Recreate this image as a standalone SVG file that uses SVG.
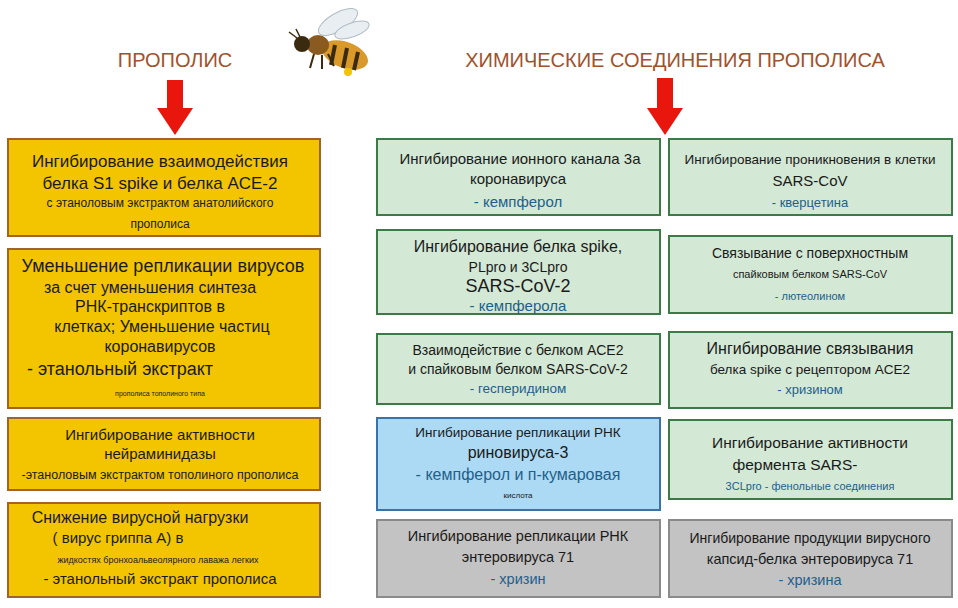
<svg xmlns="http://www.w3.org/2000/svg" width="958" height="608" viewBox="0 0 958 608">
<style>
text{font-family:"Liberation Sans",Arial,sans-serif;text-anchor:middle;fill:#1a1a1a}
.y{fill:#f2c500;stroke:#a0632a;stroke-width:2}
.g{fill:#d3e8d5;stroke:#3e7a48;stroke-width:2}
.b{fill:#acd9f3;stroke:#3b73a8;stroke-width:2}
.s{fill:#c3c3c3;stroke:#8a8a8a;stroke-width:2}
.t{fill:#a0522d;font-size:20px}
.bl{fill:#1f5f8b}
</style>
<rect width="958" height="608" fill="#fff"/>
<g id="titles">
<text class="t" x="175" y="67">ПРОПОЛИС</text>
<text class="t" x="675" y="67">ХИМИЧЕСКИЕ СОЕДИНЕНИЯ ПРОПОЛИСА</text>
</g>
<g id="bee">
<ellipse cx="338" cy="22" rx="22" ry="9" fill="#e8eef2" stroke="#b0bcc4" transform="rotate(-30 338 22)"/>
<ellipse cx="352" cy="30" rx="18" ry="7" fill="#e8eef2" stroke="#b0bcc4" transform="rotate(-20 352 30)"/>
<ellipse cx="345" cy="55" rx="24" ry="13" fill="#d99a2b" transform="rotate(20 345 55)"/>
<path d="M335 45 l-4 20 M347 48 l-4 20 M358 52 l-4 18" stroke="#3a2a10" stroke-width="4"/>
<ellipse cx="318" cy="45" rx="11" ry="10" fill="#8a5a20"/>
<circle cx="302" cy="44" r="8" fill="#3a2a10"/>
<path d="M297 38 l-8 -6 M300 37 l-4 -8" stroke="#3a2a10" stroke-width="1.5" fill="none"/>
<path d="M314 54 l-4 14 M322 55 l0 14 M328 54 l6 12" stroke="#3a2a10" stroke-width="2"/>
<circle cx="348" cy="72" r="4" fill="#f2c500"/>
</g>
<g id="arrows" fill="#e8160c">
<polygon points="167,80 183,80 183,108 193,108 175,135 157,108 167,108"/>
<polygon points="657,78 673,78 673,108 683,108 665,135 647,108 657,108"/>
</g>
<g id="connectors"></g>
<g id="L1"><rect class="y" x="8" y="139" width="312" height="97"/>
<text x="160" y="167" font-size="17">Ингибирование взаимодействия</text>
<text x="160" y="189" font-size="17">белка S1 spike и белка ACE-2</text>
<text x="160" y="207" font-size="12">с этаноловым экстрактом анатолийского</text>
<text x="160" y="228" font-size="12">прополиса</text></g>
<g id="L2"><rect class="y" x="8" y="249" width="312" height="159"/>
<text x="163" y="272" font-size="18">Уменьшение репликации вирусов</text>
<text x="150" y="293" font-size="16">за счет уменьшения синтеза</text>
<text x="150" y="312" font-size="16">РНК-транскриптов в</text>
<text x="162" y="332" font-size="16">клетках; Уменьшение частиц</text>
<text x="160" y="352" font-size="16">коронавирусов</text>
<text x="120" y="375" font-size="18">- этанольный экстракт</text>
<text x="160" y="396" font-size="7">прополиса тополиного типа</text></g>
<g id="L3"><rect class="y" x="8" y="418" width="312" height="72"/>
<text x="160" y="440" font-size="15">Ингибирование активности</text>
<text x="160" y="459" font-size="15">нейраминидазы</text>
<text x="160" y="479" font-size="12.5">-этаноловым экстрактом тополиного прополиса</text></g>
<g id="L4"><rect class="y" x="8" y="503" width="312" height="94"/>
<text x="140" y="523" font-size="16">Снижение вирусной нагрузки</text>
<text x="118" y="543" font-size="15">( вирус гриппа А) в</text>
<text x="158" y="563" font-size="9">жидкостях бронхоальвеолярного лаважа легких</text>
<text x="160" y="584" font-size="15">- этанольный экстракт прополиса</text></g>
<g id="M1"><rect class="g" x="377" y="139" width="283" height="76"/>
<text x="520" y="164" font-size="15">Ингибирование ионного канала 3a</text>
<text x="518" y="184" font-size="15">коронавируса</text>
<text x="518" y="207" font-size="15" class="bl">- кемпферол</text></g>
<g id="M2"><rect class="g" x="377" y="230" width="283" height="84"/>
<text x="518" y="252" font-size="16">Ингибирование белка spike,</text>
<text x="518" y="272" font-size="14">PLpro и 3CLpro</text>
<text x="518" y="292" font-size="18">SARS-CoV-2</text>
<text x="518" y="311" font-size="15" class="bl">- кемпферола</text></g>
<g id="M3"><rect class="g" x="377" y="334" width="283" height="70"/>
<text x="518" y="355" font-size="14">Взаимодействие с белком ACE2</text>
<text x="518" y="374" font-size="14">и спайковым белком SARS-CoV-2</text>
<text x="518" y="393" font-size="13.5" class="bl">- гесперидином</text></g>
<g id="M4"><rect class="b" x="377" y="418" width="283" height="92"/>
<text x="518" y="437" font-size="13.5">Ингибирование репликации РНК</text>
<text x="518" y="458" font-size="16">риновируса-3</text>
<text x="518" y="480" font-size="16" class="bl">- кемпферол и п-кумаровая</text>
<text x="518" y="498" font-size="8">кислота</text></g>
<g id="M5"><rect class="s" x="377" y="520" width="283" height="77"/>
<text x="518" y="541" font-size="14.5">Ингибирование репликации РНК</text>
<text x="518" y="562" font-size="14.5">энтеровируса 71</text>
<text x="518" y="584" font-size="14.5" class="bl">- хризин</text></g>
<g id="R1"><rect class="g" x="669" y="139" width="283" height="76"/>
<text x="810" y="164" font-size="13.5">Ингибирование проникновения в клетки</text>
<text x="810" y="186" font-size="15">SARS-CoV</text>
<text x="810" y="207" font-size="13" class="bl">- кверцетина</text></g>
<g id="R2"><rect class="g" x="669" y="236" width="283" height="77"/>
<text x="810" y="258" font-size="14">Связывание с поверхностным</text>
<text x="810" y="278" font-size="11">спайковым белком SARS-CoV</text>
<text x="810" y="300" font-size="11" class="bl">- лютеолином</text></g>
<g id="R3"><rect class="g" x="669" y="332" width="283" height="76"/>
<text x="810" y="354" font-size="16">Ингибирование связывания</text>
<text x="810" y="374" font-size="13.5">белка spike с рецептором ACE2</text>
<text x="810" y="394" font-size="13" class="bl">- хризином</text></g>
<g id="R4"><rect class="g" x="669" y="420" width="283" height="79"/>
<text x="810" y="448" font-size="15.5">Ингибирование активности</text>
<text x="795" y="470" font-size="15.5">фермента SARS-</text>
<text x="810" y="490" font-size="11" class="bl">3CLpro - фенольные соединения</text></g>
<g id="R5"><rect class="s" x="669" y="520" width="283" height="77"/>
<text x="810" y="543" font-size="14">Ингибирование продукции вирусного</text>
<text x="810" y="564" font-size="14.5">капсид-белка энтеровируса 71</text>
<text x="810" y="585" font-size="14.5" class="bl">- хризина</text></g>
</svg>
